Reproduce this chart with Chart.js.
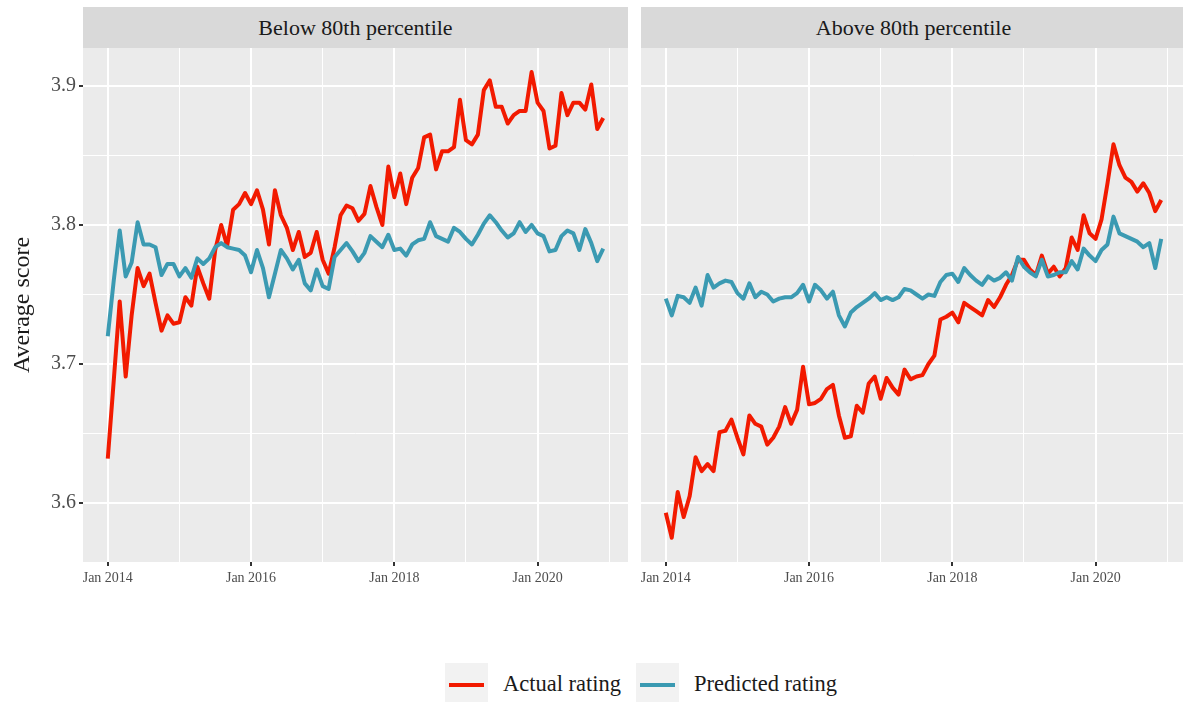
<!DOCTYPE html>
<html>
<head>
<meta charset="utf-8">
<script src="https://cdn.jsdelivr.net/npm/chart.js@4.4.1/dist/chart.umd.min.js"></script>
<style>
  html, body { margin: 0; padding: 0; background: #fff; overflow: hidden; }
  #wrap { position: relative; width: 1183px; height: 702px; overflow: hidden; font-family: "Liberation Serif", serif; }
  .strip { position: absolute; top: 7px; height: 41px; background: #d9d9d9; color: #1a1a1a;
           font-size: 22px; line-height: 41px; text-align: center; }
  canvas { position: absolute; }
  .key { position: absolute; top: 663px; width: 43px; height: 43px; background: #f2f2f2; }
  .key span { position: absolute; left: 4px; right: 4px; top: 19.5px; height: 4px; }
  .lab { position: absolute; top: 671px; font-size: 22.5px; line-height: 26px; color: #1a1a1a; white-space: nowrap; }
</style>
</head>
<body>
<div id="wrap">
  <div class="strip" style="left:83px;width:545px;">Below 80th percentile</div>
  <div class="strip" style="left:641px;width:545px;">Above 80th percentile</div>
  <!-- el lienzo izquierdo sube 15px: Chart.js deja ese margen arriba por la etiqueta del eje y -->
  <canvas id="chartBelow" width="628" height="567" style="left:0;top:33px;"></canvas>
  <canvas id="chartAbove" width="558" height="552" style="left:628px;top:48px;"></canvas>
  <div class="key" style="left:445px;"><span style="background:#F21A00"></span></div>
  <div class="lab" style="left:503px;">Actual rating</div>
  <div class="key" style="left:636px;"><span style="background:#3B9AB2"></span></div>
  <div class="lab" style="left:694px;">Predicted rating</div>
</div>
<script>
// valores, un punto por mes desde Jan 2014 hasta Dec 2020
const belowActual = [
  3.632, 3.688, 3.745, 3.691, 3.735, 3.769, 3.756, 3.765, 3.744, 3.724, 3.735, 3.729,
  3.730, 3.748, 3.742, 3.770, 3.758, 3.747, 3.782, 3.800, 3.785, 3.811, 3.815, 3.823,
  3.815, 3.825, 3.811, 3.786, 3.825, 3.807, 3.798, 3.782, 3.795, 3.777, 3.780, 3.795,
  3.775, 3.765, 3.784, 3.807, 3.814, 3.812, 3.803, 3.808, 3.828, 3.813, 3.800, 3.842,
  3.820, 3.837, 3.815, 3.834, 3.841, 3.863, 3.865, 3.840, 3.853, 3.853, 3.856, 3.890,
  3.861, 3.858, 3.865, 3.897, 3.904, 3.885, 3.885, 3.873, 3.879, 3.882, 3.882, 3.910,
  3.888, 3.882, 3.855, 3.857, 3.895, 3.879, 3.888, 3.888, 3.883, 3.901, 3.869, 3.877
];
const belowPredicted = [
  3.720, 3.760, 3.796, 3.763, 3.773, 3.802, 3.786, 3.786, 3.784, 3.764, 3.772, 3.772,
  3.763, 3.769, 3.762, 3.776, 3.772, 3.776, 3.784, 3.787, 3.784, 3.783, 3.782, 3.778,
  3.766, 3.782, 3.769, 3.748, 3.765, 3.782, 3.776, 3.768, 3.775, 3.758, 3.753, 3.768,
  3.756, 3.754, 3.777, 3.782, 3.787, 3.781, 3.774, 3.780, 3.792, 3.788, 3.784, 3.793,
  3.782, 3.783, 3.778, 3.786, 3.789, 3.790, 3.802, 3.792, 3.790, 3.788, 3.798, 3.795,
  3.790, 3.786, 3.793, 3.801, 3.807, 3.802, 3.796, 3.791, 3.794, 3.802, 3.795, 3.800,
  3.794, 3.792, 3.781, 3.782, 3.792, 3.796, 3.794, 3.782, 3.797, 3.787, 3.774, 3.783
];
const aboveActual = [
  3.593, 3.575, 3.608, 3.590, 3.605, 3.633, 3.623, 3.628, 3.623, 3.651, 3.652, 3.660,
  3.647, 3.635, 3.663, 3.657, 3.655, 3.642, 3.647, 3.655, 3.669, 3.657, 3.667, 3.698,
  3.671, 3.672, 3.675, 3.682, 3.685, 3.663, 3.647, 3.648, 3.670, 3.665, 3.686, 3.691,
  3.675, 3.690, 3.683, 3.678, 3.696, 3.689, 3.691, 3.692, 3.700, 3.706, 3.732, 3.734,
  3.737, 3.730, 3.744, 3.741, 3.738, 3.735, 3.746, 3.741, 3.748, 3.757, 3.764, 3.775,
  3.775, 3.768, 3.764, 3.778, 3.765, 3.770, 3.763, 3.769, 3.791, 3.782, 3.807, 3.794,
  3.790, 3.804, 3.830, 3.858, 3.843, 3.834, 3.831, 3.824, 3.830, 3.823, 3.810, 3.818
];
const abovePredicted = [
  3.747, 3.735, 3.749, 3.748, 3.744, 3.755, 3.742, 3.764, 3.755, 3.758, 3.760, 3.759,
  3.751, 3.747, 3.758, 3.748, 3.752, 3.750, 3.745, 3.747, 3.748, 3.748, 3.751, 3.757,
  3.745, 3.757, 3.753, 3.747, 3.752, 3.735, 3.727, 3.737, 3.741, 3.744, 3.747, 3.751,
  3.746, 3.748, 3.746, 3.748, 3.754, 3.753, 3.750, 3.747, 3.750, 3.749, 3.759, 3.764,
  3.765, 3.759, 3.769, 3.764, 3.760, 3.757, 3.763, 3.760, 3.762, 3.766, 3.760, 3.777,
  3.770, 3.766, 3.763, 3.775, 3.763, 3.764, 3.766, 3.766, 3.774, 3.768, 3.783, 3.778,
  3.774, 3.782, 3.786, 3.806, 3.794, 3.792, 3.790, 3.788, 3.784, 3.787, 3.769, 3.790
];

// ejes: meses desde Jan 2014
const xMajor = [0, 24, 48, 72];
const xMajorLabels = ['Jan 2014', 'Jan 2016', 'Jan 2018', 'Jan 2020'];
const xMinor = [12, 36, 60, 84];
const yMajor = [3.6, 3.7, 3.8, 3.9];
const yMinor = [3.65, 3.75, 3.85];

const RED = '#F21A00';
const BLUE = '#3B9AB2';

// fondo gris del panel (como ggplot)
const panelBg = {
  id: 'panelBg',
  beforeDraw(chart) {
    const { ctx, chartArea: a } = chart;
    ctx.save();
    ctx.fillStyle = '#ebebeb';
    ctx.fillRect(a.left, a.top, a.right - a.left, a.bottom - a.top);
    ctx.restore();
  }
};

function toPoints(values) {
  return values.map((v, i) => ({ x: i, y: v }));
}

function isMajorX(v) { return xMajor.includes(v); }
function isMajorY(v) { return yMajor.some(m => Math.abs(m - v) < 1e-9); }

function panelConfig(actual, predicted, showY) {
  const xTicks = [xMinor[3], ...xMajor, xMinor[0], xMinor[1], xMinor[2]];
  const yTicks = [yMinor[0], ...yMajor, yMinor[1], yMinor[2]];
  return {
    type: 'line',
    data: {
      datasets: [
        { label: 'Predicted rating', data: toPoints(predicted), borderColor: BLUE, order: 0 },
        { label: 'Actual rating', data: toPoints(actual), borderColor: RED, order: 1 }
      ]
    },
    options: {
      responsive: false,
      animation: false,
      devicePixelRatio: 1,
      layout: { padding: 0, autoPadding: false },
      elements: {
        line: { borderWidth: 4, tension: 0, borderJoinStyle: 'round', borderCapStyle: 'butt', fill: false },
        point: { radius: 0, hoverRadius: 0 }
      },
      plugins: { legend: { display: false }, tooltip: { enabled: false } },
      scales: {
        x: {
          type: 'linear',
          min: -4.15,
          max: 87.15,
          afterBuildTicks: s => { s.ticks = xTicks.map(v => ({ value: v })); },
          afterFit: s => { s.height = 38; },
          border: { display: false },
          grid: {
            color: '#ffffff',
            lineWidth: c => (c.tick && isMajorX(c.tick.value) ? 2 : 1),
            drawTicks: true,
            tickLength: 4,
            tickWidth: 2,
            tickColor: c => (c.tick && isMajorX(c.tick.value) ? '#333333' : 'rgba(0,0,0,0)')
          },
          ticks: {
            autoSkip: false,
            maxRotation: 0,
            padding: 4,
            color: '#4d4d4d',
            font: { family: 'Liberation Serif', size: 14 },
            callback: v => { const k = xMajor.indexOf(v); return k >= 0 ? xMajorLabels[k] : ''; }
          }
        },
        y: {
          type: 'linear',
          min: 3.5576,
          max: 3.9273,
          afterBuildTicks: s => { s.ticks = yTicks.map(v => ({ value: v })); },
          afterFit: s => { s.width = showY ? 83 : 13; },
          border: { display: false },
          grid: {
            color: '#ffffff',
            lineWidth: c => (c.tick && isMajorY(c.tick.value) ? 2 : 1),
            drawTicks: showY,
            tickLength: 4,
            tickWidth: 2,
            tickColor: c => (c.tick && isMajorY(c.tick.value) ? '#333333' : 'rgba(0,0,0,0)')
          },
          ticks: {
            display: showY,
            padding: 3,
            color: '#4d4d4d',
            font: { family: 'Liberation Serif', size: 20 },
            callback: v => (isMajorY(v) ? v.toFixed(1) : '')
          },
          title: {
            display: showY,
            text: 'Average score',
            color: '#1a1a1a',
            font: { family: 'Liberation Serif', size: 24 },
            padding: { top: 8, bottom: 0 }
          }
        }
      }
    },
    plugins: [panelBg]
  };
}

new Chart(document.getElementById('chartBelow'), panelConfig(belowActual, belowPredicted, true));
new Chart(document.getElementById('chartAbove'), panelConfig(aboveActual, abovePredicted, false));
</script>
</body>
</html>
